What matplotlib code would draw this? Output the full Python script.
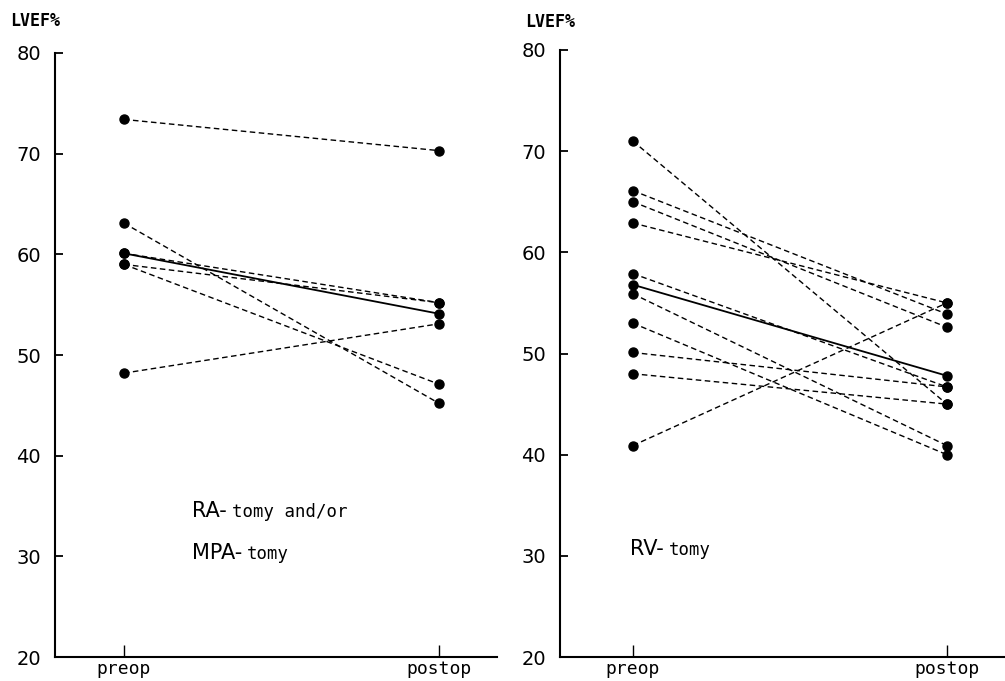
import matplotlib.pyplot as plt

# LVEF % before and after surgery
stages = ['preop', 'postop']
yticks = [20, 30, 40, 50, 60, 70, 80]

left_pre = [73.4, 63.1, 60.1, 59.0, 59.0, 48.2]
left_post = [70.3, 45.2, 55.2, 55.2, 47.1, 53.1]
left_mean = [60.1, 54.1]

right_pre = [71.0, 66.1, 65.0, 62.9, 57.9, 55.9, 53.0, 50.1, 48.0, 40.9]
right_post = [45.0, 53.9, 52.6, 55.0, 46.7, 40.9, 40.0, 46.7, 45.0, 55.0]
right_mean = [56.8, 47.8]

mono = 'DejaVu Sans Mono'

fig = plt.figure(figsize=(10.05, 6.81), dpi=100)
axL = fig.add_axes([0.0547, 0.0352, 0.4398, 0.887])
axR = fig.add_axes([0.5572, 0.0352, 0.4428, 0.8914])


def panel(ax, pre, post, mean, xlim):
    x = [0, 1]
    for a, b in zip(pre, post):
        ax.plot(x, [a, b], color='black', lw=1.0, ls=(0, (4, 2.5)),
                marker='o', ms=6.5, mfc='black', mec='black', zorder=3)
    ax.plot(x, mean, color='black', lw=1.3, ls='-',
            marker='o', ms=6.5, zorder=4)
    ax.set_xlim(*xlim)
    ax.set_ylim(20, 80)
    ax.set_yticks(yticks)
    ax.set_yticklabels([str(v) for v in yticks], fontsize=14)
    ax.set_xticks(x)
    ax.set_xticklabels(stages, fontsize=13, family=mono)
    for s in ['top', 'right']:
        ax.spines[s].set_visible(False)
    for s in ['left', 'bottom']:
        ax.spines[s].set_linewidth(1.5)
    ax.tick_params(axis='y', direction='in', length=6, width=1.3, pad=10)
    ax.tick_params(axis='x', direction='in', length=9, width=1.0, pad=2)


panel(axL, left_pre, left_post, left_mean, (-0.219, 1.184))
panel(axR, right_pre, right_post, right_mean, (-0.232, 1.185))

fig.text(10 / 1005, 1 - 21 / 681, 'LVEF%', fontsize=12, family=mono,
         fontweight='bold', va='center', ha='left')
fig.text(525 / 1005, 1 - 22 / 681, 'LVEF%', fontsize=12, family=mono,
         fontweight='bold', va='center', ha='left')

# group annotations: big prefix, then small mono suffix right after it
renderer = fig.canvas.get_renderer()


def label(ax, x, y, big, small):
    t = ax.text(x, y, big, transform=ax.transAxes, fontsize=15,
                family='DejaVu Sans', va='baseline', ha='left')
    bb = t.get_window_extent(renderer=renderer)
    x2 = ax.transAxes.inverted().transform((bb.x1 + 5, bb.y0))[0]
    ax.text(x2, y, small, transform=ax.transAxes, fontsize=12.5,
            family=mono, va='baseline', ha='left')


label(axL, 0.31, 0.232, 'RA-', 'tomy and/or')
label(axL, 0.31, 0.163, 'MPA-', 'tomy')
label(axR, 0.157, 0.168, 'RV-', 'tomy')

fig.savefig('out.png', dpi=100)
